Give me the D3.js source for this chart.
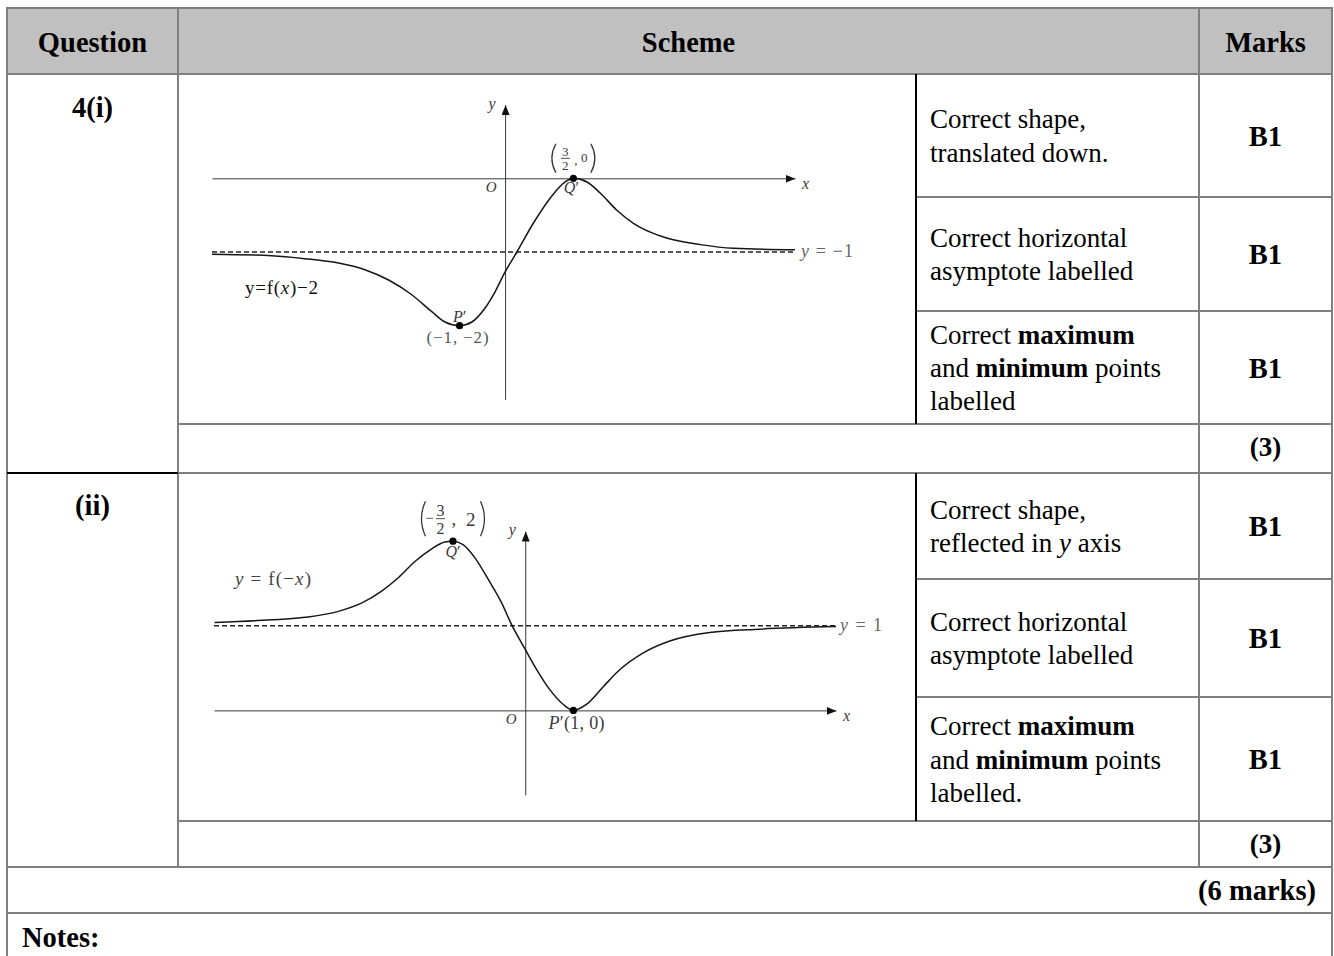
<!DOCTYPE html>
<html>
<head>
<meta charset="utf-8">
<script src="https://cdn.jsdelivr.net/npm/d3@7"></script>
<style>
    body { margin: 0; background: #fff; }
    svg text { font-family: "Liberation Serif", "Times New Roman", serif; white-space: pre; }
</style>
</head>
<body>
<svg id="chart" width="1334" height="956"></svg>
<script>

    var headers = ['Question', 'Scheme', 'Marks'];
    var parts = ['4(i)', '(ii)'];

    var criteriaI = [
        ['Correct shape,', 'translated down.'],
        ['Correct horizontal', 'asymptote labelled'],
        ['Correct **maximum**', 'and **minimum** points', 'labelled']
    ];
    var criteriaII = [
        ['Correct shape,', 'reflected in _y_ axis'],
        ['Correct horizontal', 'asymptote labelled'],
        ['Correct **maximum**', 'and **minimum** points', 'labelled.']
    ];
    var marksI = ['B1', 'B1', 'B1'];
    var marksII = ['B1', 'B1', 'B1'];
    var subtotals = ['(3)', '(3)'];
    var total = '(6 marks)';
    var notes = 'Notes:';

    // sketch (i): y = f(x) - 2
    var curveI = [
        [-6.44, -1.03], [-5.13, -1.05], [-4.40, -1.09], [-3.66, -1.15], [-3.08, -1.24],
        [-2.56, -1.38], [-2.05, -1.58], [-1.61, -1.81], [-1.32, -1.95], [-1, -2],
        [-0.73, -1.95], [-0.44, -1.76], [-0.22, -1.54], [0, -1.27], [0.26, -1.0],
        [0.62, -0.61], [0.99, -0.27], [1.32, -0.05], [1.5, 0], [1.80, -0.05],
        [2.09, -0.20], [2.45, -0.43], [2.82, -0.61], [3.19, -0.73], [3.55, -0.81],
        [4.29, -0.90], [5.02, -0.95], [6.37, -0.97]
    ];
    var asymI = -1;
    var minI = [-1, -2];
    var maxI = [1.5, 0];

    // sketch (ii): y = f(-x)
    var curveII = [
        [-6.45, 1.04], [-5.61, 1.06], [-4.57, 1.10], [-3.88, 1.17], [-3.39, 1.27],
        [-2.98, 1.41], [-2.63, 1.57], [-2.29, 1.76], [-1.94, 1.91], [-1.67, 1.99],
        [-1.5, 2], [-1.29, 1.96], [-1.04, 1.80], [-0.77, 1.55], [-0.49, 1.27],
        [-0.28, 1.01], [0, 0.72], [0.24, 0.48], [0.51, 0.245], [0.79, 0.07],
        [1, 0], [1.27, 0.07], [1.62, 0.28], [1.96, 0.48], [2.45, 0.68],
        [3.0, 0.82], [3.83, 0.92], [4.87, 0.96], [6.45, 0.99]
    ];
    var asymII = 1;
    var minII = [1, 0];
    var maxII = [-1.5, 2];

    var svg = d3.select('#chart');
    var lineGrey = '#7f7f7f';
    var ink = '#3a3a3a';

    //bold with **..**, italic with _.._
    function rich(text, str) {
        str.split(/(\*\*[^*]+\*\*|_[^_]+_)/).forEach(function (seg) {
            if (!seg) return;
            var t = text.append('tspan');
            if (seg.indexOf('**') === 0) {
                t.attr('font-weight', 'bold').text(seg.slice(2, -2));
            } else if (seg[0] === '_' && seg.length > 2) {
                t.attr('font-style', 'italic').text(seg.slice(1, -1));
            } else {
                t.text(seg);
            }
        });
        return text;
    }

    function label(g, x, y, str, size, anchor, fill, len) {
        var t = g.append('text')
            .attr('x', x)
            .attr('y', y)
            .attr('font-size', size)
            .attr('text-anchor', anchor || 'start')
            .attr('fill', fill || '#000');
        if (len) {
            t.attr('textLength', len).attr('lengthAdjust', 'spacing');
        }
        return rich(t, str);
    }

    // ---------- table ----------
    svg.append('rect')
        .attr('x', 7).attr('y', 8)
        .attr('width', 1325).attr('height', 66)
        .attr('fill', '#c0c0c0');

    var hLines = [
        [8, 7, 1332], [74, 7, 1332],
        [197, 916, 1332], [311, 916, 1332], [424, 178, 1332], [473, 178, 1332],
        [579, 916, 1332], [697, 916, 1332], [821, 178, 1332],
        [867, 7, 1332], [913, 7, 1332]
    ];
    var vLines = [[7, 7, 956], [1332, 7, 956], [178, 7, 867], [1199, 7, 867]];

    hLines.forEach(function (l) {
        svg.append('line')
            .attr('x1', l[1]).attr('x2', l[2]).attr('y1', l[0]).attr('y2', l[0])
            .attr('stroke', lineGrey).attr('stroke-width', 2);
    });
    vLines.forEach(function (l) {
        svg.append('line')
            .attr('x1', l[0]).attr('x2', l[0]).attr('y1', l[1]).attr('y2', l[2])
            .attr('stroke', lineGrey).attr('stroke-width', 2);
    });
    //black rules
    svg.append('line')
        .attr('x1', 7).attr('x2', 178).attr('y1', 473).attr('y2', 473)
        .attr('stroke', '#000').attr('stroke-width', 2);
    [[74, 424], [473, 821]].forEach(function (s) {
        svg.append('line')
            .attr('x1', 916).attr('x2', 916).attr('y1', s[0]).attr('y2', s[1])
            .attr('stroke', '#000').attr('stroke-width', 2);
    });

    var colMid = [92.5, 688.5, 1265.5];
    headers.forEach(function (h, i) {
        label(svg, colMid[i], 52, '**' + h + '**', 28.5, 'middle');
    });

    function drawSection(rows, criteria, marks, subtotal, part, partY) {
        label(svg, colMid[0], partY, '**' + part + '**', 28.5, 'middle');
        criteria.forEach(function (lines, i) {
            var mid = (rows[i] + rows[i + 1]) / 2;
            var lh = 33.4;
            lines.forEach(function (ln, j) {
                label(svg, 930, mid + (j - (lines.length - 1) / 2) * lh + 9.5, ln, 27);
            });
            label(svg, colMid[2], mid + 10, '**' + marks[i] + '**', 28.5, 'middle');
        });
        var last = rows[rows.length - 1];
        label(svg, colMid[2], last + 32, '**' + subtotal + '**', 27, 'middle');
    }

    drawSection([74, 197, 311, 424], criteriaI, marksI, subtotals[0], parts[0], 117);
    drawSection([473, 579, 697, 821], criteriaII, marksII, subtotals[1], parts[1], 515);

    label(svg, 1316, 900, '**' + total + '**', 28.5, 'end');
    label(svg, 22, 947, '**' + notes + '**', 28.5, 'start');

    // ---------- sketches ----------
    svg.append('defs').append('marker')
        .attr('id', 'arrow')
        .attr('viewBox', '0 0 10 8')
        .attr('refX', 10).attr('refY', 4)
        .attr('markerWidth', 10).attr('markerHeight', 8)
        .attr('markerUnits', 'userSpaceOnUse')
        .attr('orient', 'auto')
      .append('path')
        .attr('d', 'M0,0L10,4L0,8Z')
        .attr('fill', '#111');

    function drawSketch(x, y, curve, asym, turns) {
        var g = svg.append('g');

        g.append('g')
            .attr('transform', 'translate(0,' + y(0) + ')')
            .call(d3.axisBottom(x).tickValues([]).tickSizeOuter(0))
            .select('.domain')
                .attr('stroke', ink)
                .attr('marker-end', 'url(#arrow)');
        g.append('g')
            .attr('transform', 'translate(' + x(0) + ',0)')
            .call(d3.axisLeft(y).tickValues([]).tickSizeOuter(0))
            .select('.domain')
                .attr('stroke', ink)
                .attr('marker-end', 'url(#arrow)');

        //asymptote
        g.append('line')
            .attr('x1', x.range()[0]).attr('x2', x.range()[1])
            .attr('y1', y(asym)).attr('y2', y(asym))
            .attr('stroke', '#222')
            .attr('stroke-width', 1.3)
            .attr('stroke-dasharray', '5,3');

        g.append('path')
            .datum(curve)
            .attr('d', d3.line()
                .x(function (d) { return x(d[0]); })
                .y(function (d) { return y(d[1]); })
                .curve(d3.curveMonotoneX))
            .attr('fill', 'none')
            .attr('stroke', '#161616')
            .attr('stroke-width', 1.5);

        turns.forEach(function (p) {
            g.append('circle')
                .attr('cx', x(p[0])).attr('cy', y(p[1]))
                .attr('r', 3.6)
                .attr('fill', '#000');
        });

        //axis letters
        label(g, x(0) - 13, y.range()[1] + 4, '_y_', 16, 'middle', ink);
        label(g, x.range()[1] + 7, y(0) + 11, '_x_', 16, 'start', ink);
        label(g, x(0) - 14, y(0) + 14, '_O_', 15, 'middle', ink);
        return g;
    }

    //coordinate with a fraction, as (a/b, c)
    function fracCoord(g, cx, barY, o) {
        var top = barY - o.half, bot = barY + o.half;
        var lx = cx - o.w, rx = cx + o.w;
        g.append('path')
            .attr('d', 'M' + (lx + 5) + ',' + top + 'Q' + (lx - 3) + ',' + barY + ' ' + (lx + 5) + ',' + bot)
            .attr('fill', 'none').attr('stroke', ink).attr('stroke-width', 1.3);
        g.append('path')
            .attr('d', 'M' + (rx - 5) + ',' + top + 'Q' + (rx + 3) + ',' + barY + ' ' + (rx - 5) + ',' + bot)
            .attr('fill', 'none').attr('stroke', ink).attr('stroke-width', 1.3);
        var fx = cx + o.fracDx;
        if (o.sign) label(g, cx + o.signDx, barY + 4.5, o.sign, o.fs - 1, 'middle', ink);
        label(g, fx, barY - 2.5, o.num, o.fs, 'middle', ink);
        label(g, fx, barY + o.fs - 1, o.den, o.fs, 'middle', ink);
        g.append('line')
            .attr('x1', fx - o.bar).attr('x2', fx + o.bar)
            .attr('y1', barY).attr('y2', barY)
            .attr('stroke', ink).attr('stroke-width', 0.9);
        label(g, cx + o.commaDx, barY + 6, ',', o.restFs, 'start', ink);
        label(g, cx + o.restDx, barY + o.restDy, o.rest, o.restFs, 'middle', ink);
    }

    // (i)
    var x1 = d3.scaleLinear().domain([-6.44, 6.37]).range([212, 795]);
    var y1 = d3.scaleLinear().domain([-3, 1]).range([399.4, 104.6]);
    var g1 = drawSketch(x1, y1, curveI, asymI, [minI, maxI]);
    label(g1, x1(minI[0]), y1(minI[1]) - 4, '_P_′', 16, 'middle', ink);
    label(g1, x1(minI[0]) - 2, y1(minI[1]) + 17, '(−1, −2)', 17, 'middle', '#555', 62);
    label(g1, x1(maxI[0]) - 2, y1(maxI[1]) + 15, '_Q_′', 16, 'middle', ink);
    fracCoord(g1, x1(maxI[0]), y1(maxI[1]) - 20, {
        half: 14.5, w: 22.5, fracDx: -8, bar: 4.5, fs: 13, num: '3', den: '2',
        commaDx: 1, restDx: 11, restDy: 4, restFs: 13, rest: '0'
    });
    label(g1, x1.range()[1] + 6, y1(asymI) + 5, '_y_ = −1', 18, 'start', '#666', 52);
    label(g1, x1.range()[0] + 33, y1(asymI) + 42, 'y=f(_x_)−2', 19, 'start', '#111', 73);

    // (ii)
    var x2 = d3.scaleLinear().domain([-6.46, 6.45]).range([214, 836]);
    var y2 = d3.scaleLinear().domain([-1, 2.12]).range([795, 531]);
    var g2 = drawSketch(x2, y2, curveII, asymII, [minII, maxII]);
    label(g2, x2(maxII[0]), y2(maxII[1]) + 16, '_Q_′', 16, 'middle', ink);
    fracCoord(g2, x2(maxII[0]), y2(maxII[1]) - 22.5, {
        half: 17.5, w: 32.5, sign: '−', signDx: -23.5, fracDx: -12.5, bar: 4.5, fs: 16,
        num: '3', den: '2', commaDx: -1.5, restDx: 17.8, restDy: 7, restFs: 19, rest: '2'
    });
    label(g2, x2(minII[0]) - 25, y2(minII[1]) + 19, '_P_′(1, 0)', 18, 'start', ink, 56);
    label(g2, x2.range()[1] + 4, y2(asymII) + 5, '_y_ = 1', 18, 'start', '#666', 42);
    label(g2, x2.range()[0] + 21, y2(asymII) - 41, '_y_ = f(−_x_)', 19, 'start', '#444', 76);

</script>
</body>
</html>
